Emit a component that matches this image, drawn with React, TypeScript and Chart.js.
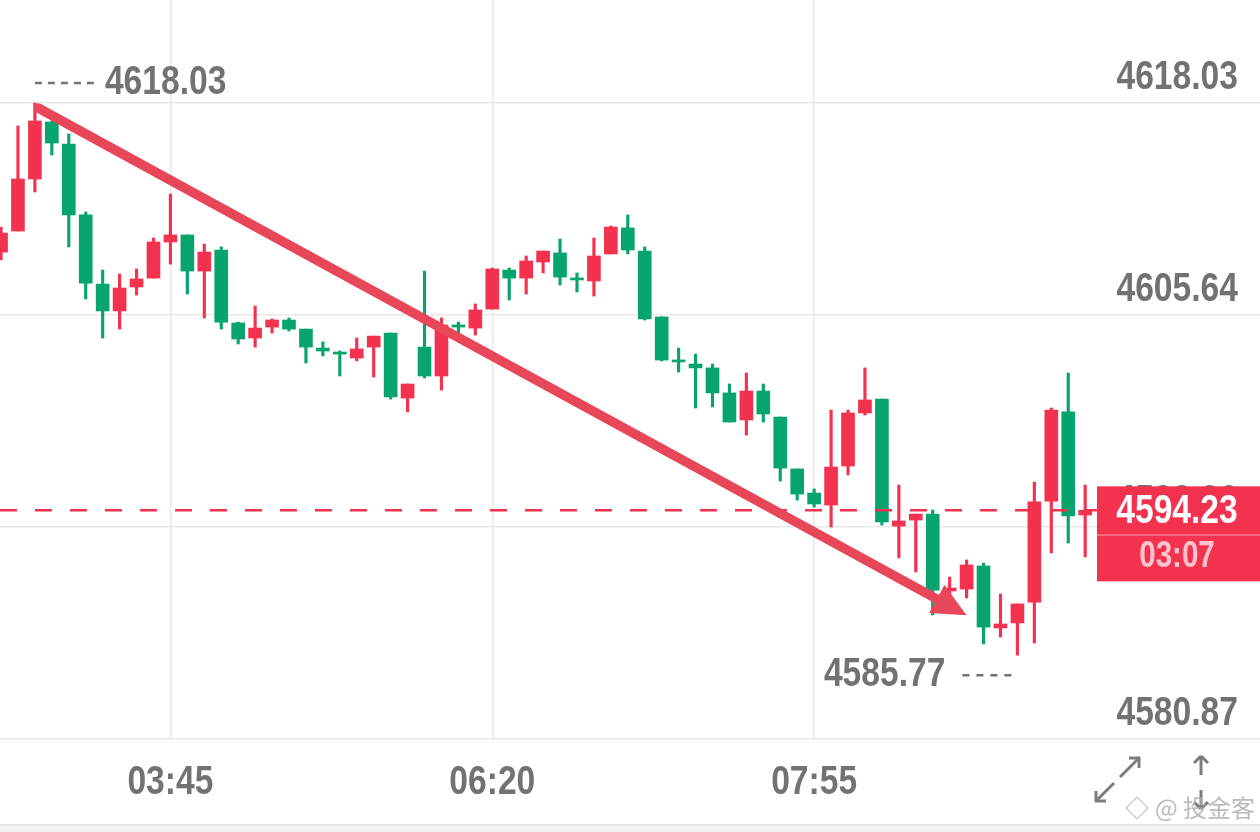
import React, { useEffect, useRef } from "react";
import { Chart, registerables } from "chart.js";

Chart.register(...registerables);

// ---- data (5-minute candles) ----
const candleOpen = [
  4609.32, 4610.55, 4613.59, 4616.92, 4615.63, 4611.49, 4607.45, 4605.88, 4607.28, 4607.80,
  4609.91, 4610.32, 4608.21, 4609.44, 4605.18, 4604.30, 4604.94, 4605.35, 4604.82, 4603.71,
  4603.48, 4603.13, 4603.77, 4604.59, 4600.79, 4603.77, 4602.08, 4605.06, 4604.88, 4605.99,
  4608.27, 4607.80, 4608.74, 4609.27, 4607.80, 4607.63, 4609.21, 4610.73, 4609.38, 4605.53,
  4603.01, 4602.78, 4602.55, 4601.09, 4599.51, 4601.20, 4599.68, 4596.65, 4595.24, 4594.54,
  4596.82, 4599.92, 4600.73, 4593.31, 4593.66, 4594.01, 4589.52, 4589.63, 4590.98, 4587.36,
  4587.65, 4588.87, 4594.77, 4599.98, 4593.96,
];
const candleHigh = [
  4610.78, 4616.69, 4618.03, 4616.98, 4616.22, 4611.66, 4608.27, 4608.04, 4608.33, 4610.14,
  4612.71, 4610.32, 4609.79, 4609.62, 4605.23, 4606.17, 4605.41, 4605.47, 4604.82, 4604.07,
  4603.54, 4604.30, 4604.41, 4604.59, 4601.61, 4608.21, 4605.47, 4605.23, 4606.29, 4608.39,
  4608.39, 4609.09, 4609.38, 4610.08, 4608.10, 4610.14, 4610.84, 4611.49, 4609.62, 4605.53,
  4603.71, 4603.36, 4602.78, 4601.61, 4602.25, 4601.61, 4599.68, 4596.65, 4595.48, 4600.09,
  4600.09, 4602.55, 4600.73, 4595.71, 4594.01, 4594.25, 4590.33, 4591.33, 4591.15, 4589.34,
  4588.76, 4595.88, 4600.21, 4602.25, 4595.71,
];
const candleLow = [
  4608.86, 4610.55, 4612.83, 4614.99, 4609.62, 4606.58, 4604.30, 4604.82, 4606.81, 4607.80,
  4608.62, 4606.87, 4605.47, 4604.82, 4603.95, 4603.77, 4604.59, 4604.71, 4602.84, 4603.25,
  4602.08, 4602.96, 4602.02, 4600.73, 4599.98, 4601.96, 4601.26, 4604.59, 4604.47, 4605.99,
  4606.52, 4606.87, 4608.10, 4607.40, 4606.99, 4606.75, 4609.21, 4609.21, 4605.35, 4602.96,
  4602.31, 4600.21, 4600.27, 4599.39, 4598.63, 4599.39, 4595.94, 4594.83, 4594.42, 4593.26,
  4596.30, 4599.80, 4593.37, 4591.45, 4590.63, 4588.12, 4589.28, 4589.11, 4586.42, 4586.83,
  4585.77, 4586.48, 4591.74, 4592.32, 4591.51,
];
const candleClose = [
  4610.43, 4613.59, 4616.98, 4615.69, 4611.49, 4607.51, 4605.88, 4607.22, 4607.75, 4609.91,
  4610.32, 4608.21, 4609.32, 4605.23, 4604.24, 4604.88, 4605.35, 4604.82, 4603.77, 4603.54,
  4603.36, 4603.66, 4604.41, 4600.85, 4601.61, 4602.08, 4605.06, 4604.94, 4605.94, 4608.33,
  4607.80, 4608.80, 4609.38, 4607.86, 4607.69, 4609.09, 4610.78, 4609.44, 4605.41, 4603.01,
  4602.90, 4602.55, 4601.09, 4599.39, 4601.20, 4599.86, 4596.70, 4595.18, 4594.60, 4596.76,
  4599.92, 4600.68, 4593.55, 4593.61, 4594.01, 4589.57, 4589.69, 4591.04, 4587.41, 4587.59,
  4588.76, 4594.72, 4600.09, 4593.90, 4594.23,
];

const xTickIndex = [10, 29, 48];
const xTickLabels = ["03:45", "06:20", "07:55"];
const yTickValues = [4580.87, 4593.26, 4605.64, 4618.03];

const lastPrice = 4594.23;
const countdownText = "03:07";
const highMarkIndex = 2;
const highMarkValue = 4618.03;
const lowMarkIndex = 60;
const lowMarkValue = 4585.77;
const trendStart = [2.2, 4617.74];
const trendEnd = [57.0, 4588.1];

// ---- styles ----
const UP = "#F2324E";
const DOWN = "#07A56D";
const GRID = "#e9e9e9";
const TEXT = "#727272";
const FONT_FAMILY = '"Liberation Sans", Arial, sans-serif';
const NARROW = 0.82;

function narrowText(
  ctx: CanvasRenderingContext2D,
  text: string,
  x: number,
  y: number,
  align: CanvasTextAlign,
  size: number,
  color: string
) {
  ctx.save();
  ctx.font = `bold ${size}px ${FONT_FAMILY}`;
  ctx.fillStyle = color;
  ctx.textBaseline = "middle";
  ctx.textAlign = align;
  ctx.translate(x, y);
  ctx.scale(NARROW, 1);
  ctx.fillText(text, 0, 0);
  ctx.restore();
}

const axisLabelPlugin = {
  id: "axisLabels",
  beforeDatasetsDraw(chart: any) {
    const ctx: CanvasRenderingContext2D = chart.ctx;
    const xs = chart.scales.x;
    const ys = chart.scales.y;
    ys.ticks.forEach((t: any) => {
      const y = ys.getPixelForValue(t.value) - 25;
      narrowText(ctx, Number(t.value).toFixed(2), chart.width - 22, y, "right", 41, TEXT);
    });
    xs.ticks.forEach((t: any) => {
      const k = xTickIndex.indexOf(Number(t.value));
      if (k < 0) return;
      const x = xs.getPixelForValue(t.value);
      narrowText(ctx, xTickLabels[k], x, xs.top + 44, "center", 41, TEXT);
    });
  },
};

const overlayPlugin = {
  id: "overlay",
  afterDatasetsDraw(chart: any) {
    const ctx: CanvasRenderingContext2D = chart.ctx;
    const xs = chart.scales.x;
    const ys = chart.scales.y;
    const W = chart.width;
    const H = chart.height;
    const boxLeft = 1097;

    ctx.save();

    // last price dashed line
    const py = ys.getPixelForValue(lastPrice);
    ctx.strokeStyle = UP;
    ctx.lineWidth = 2.5;
    ctx.setLineDash([17, 18]);
    ctx.beginPath();
    ctx.moveTo(0, py);
    ctx.lineTo(boxLeft, py);
    ctx.stroke();
    ctx.setLineDash([]);

    // trend arrow
    const x1 = xs.getPixelForValue(trendStart[0]);
    const y1 = ys.getPixelForValue(trendStart[1]);
    const x2 = xs.getPixelForValue(trendEnd[0]);
    const y2 = ys.getPixelForValue(trendEnd[1]);
    const ang = Math.atan2(y2 - y1, x2 - x1);
    const c = Math.cos(ang), s = Math.sin(ang);
    const headLen = 34, headHalf = 16;
    const bx = x2 - headLen * c, by = y2 - headLen * s;
    ctx.strokeStyle = "#E8475A";
    ctx.fillStyle = "#E8475A";
    ctx.lineWidth = 9.5;
    ctx.lineCap = "round";
    ctx.beginPath();
    ctx.moveTo(x1, y1);
    ctx.lineTo(bx + 4 * c, by + 4 * s);
    ctx.stroke();
    ctx.lineCap = "butt";
    ctx.beginPath();
    ctx.moveTo(x2, y2);
    ctx.lineTo(bx - headHalf * s, by + headHalf * c);
    ctx.lineTo(bx + headHalf * s, by - headHalf * c);
    ctx.closePath();
    ctx.fill();

    // high / low markers
    ctx.strokeStyle = TEXT;
    ctx.lineWidth = 2.5;
    const hx = xs.getPixelForValue(highMarkIndex);
    const hy = ys.getPixelForValue(highMarkValue) - 20;
    ctx.setLineDash([7, 6]);
    ctx.beginPath();
    ctx.moveTo(hx, hy);
    ctx.lineTo(hx + 64, hy);
    ctx.stroke();
    ctx.setLineDash([]);
    narrowText(ctx, highMarkValue.toFixed(2), hx + 70, hy, "left", 41, TEXT);

    const lx = xs.getPixelForValue(lowMarkIndex);
    const ly = ys.getPixelForValue(lowMarkValue) + 20;
    ctx.setLineDash([7, 7]);
    ctx.beginPath();
    ctx.moveTo(lx - 55, ly);
    ctx.lineTo(lx - 6, ly);
    ctx.stroke();
    ctx.setLineDash([]);
    narrowText(ctx, lowMarkValue.toFixed(2), lx - 72, ly, "right", 41, TEXT);

    // price box
    const boxTop = py - 24;
    ctx.fillStyle = UP;
    ctx.fillRect(boxLeft, boxTop, W - boxLeft, 95);
    ctx.fillStyle = "rgba(255,255,255,0.35)";
    ctx.fillRect(boxLeft, boxTop + 48, W - boxLeft, 1.5);
    narrowText(ctx, lastPrice.toFixed(2), 1177, py + 1, "center", 41, "#ffffff");
    narrowText(ctx, countdownText, 1177, py + 47, "center", 36, "#FFC3CC");

    // bottom band
    ctx.fillStyle = "#e6e6e6";
    ctx.fillRect(0, 824, W, 2);
    ctx.fillStyle = "#f3f3f3";
    ctx.fillRect(0, 826, W, H - 826);

    // icons
    ctx.strokeStyle = "#7c7c7c";
    ctx.lineWidth = 3;
    ctx.lineCap = "butt";
    const seg = (a: number, b: number, c2: number, d: number) => {
      ctx.beginPath();
      ctx.moveTo(a, b);
      ctx.lineTo(c2, d);
      ctx.stroke();
    };
    seg(1120, 777, 1139, 758);
    seg(1129, 758, 1140, 758);
    seg(1139, 757, 1139, 768);
    seg(1114, 783, 1096, 801);
    seg(1095, 801, 1106, 801);
    seg(1096, 791, 1096, 802);
    seg(1201, 756, 1201, 775);
    seg(1194, 763, 1201, 756);
    seg(1208, 763, 1201, 756);
    seg(1201, 790, 1201, 809);
    seg(1194, 802, 1201, 809);
    seg(1208, 802, 1201, 809);

    // watermark
    ctx.strokeStyle = "rgba(200,200,200,0.9)";
    ctx.lineWidth = 1.5;
    ctx.beginPath();
    ctx.moveTo(1137, 797);
    ctx.lineTo(1148, 808);
    ctx.lineTo(1137, 819);
    ctx.lineTo(1126, 808);
    ctx.closePath();
    ctx.stroke();
    ctx.font = `24px "Noto Sans CJK SC", sans-serif`;
    ctx.fillStyle = "rgba(175,175,175,0.85)";
    ctx.textAlign = "left";
    ctx.textBaseline = "middle";
    ctx.fillText("@ 投金客", 1155, 808);

    ctx.restore();
  },
};

export default function App() {
  const canvasRef = useRef<HTMLCanvasElement | null>(null);

  useEffect(() => {
    document.body.style.margin = "0";
    const canvas = canvasRef.current;
    if (!canvas) return;
    const idx = candleOpen.map((_, i) => i);
    const colors = idx.map((i) => (candleClose[i] >= candleOpen[i] ? UP : DOWN));

    const chart = new Chart(canvas, {
      type: "bar",
      data: {
        datasets: [
          {
            label: "wick",
            data: idx.map((i) => ({ x: i, y: [candleLow[i], candleHigh[i]] })) as any,
            backgroundColor: colors,
            barThickness: 2.5,
            grouped: false,
            borderWidth: 0,
          },
          {
            label: "body",
            data: idx.map((i) => ({ x: i, y: [candleOpen[i], candleClose[i]] })) as any,
            backgroundColor: colors,
            barThickness: 13,
            minBarLength: 2,
            grouped: false,
            borderWidth: 0,
          },
        ],
      },
      options: {
        animation: false,
        responsive: true,
        maintainAspectRatio: false,
        layout: { padding: 0 },
        plugins: {
          legend: { display: false },
          tooltip: { enabled: false },
        },
        scales: {
          x: {
            type: "linear",
            min: -0.06,
            max: 74.32,
            offset: false,
            grid: { color: GRID, lineWidth: 1.5, drawTicks: false, offset: false },
            border: { display: false },
            afterBuildTicks: (scale: any) => {
              scale.ticks = xTickIndex.map((v) => ({ value: v }));
            },
            afterFit: (scale: any) => {
              scale.height = 93;
            },
            ticks: { display: false, autoSkip: false, maxRotation: 0 },
          },
          y: {
            type: "linear",
            position: "right",
            min: 4580.87,
            max: 4624.048,
            grid: { color: GRID, lineWidth: 1.5, drawTicks: false },
            border: { display: false },
            afterBuildTicks: (scale: any) => {
              scale.ticks = yTickValues.map((v) => ({ value: v }));
            },
            afterFit: (scale: any) => {
              scale.width = 0;
            },
            ticks: { display: false, mirror: true },
          },
        },
      },
      plugins: [axisLabelPlugin, overlayPlugin],
    });
    return () => chart.destroy();
  }, []);

  return (
    <div style={{ position: "absolute", left: 0, top: 0, width: 1260, height: 832, background: "#fff" }}>
      <canvas ref={canvasRef} />
    </div>
  );
}
